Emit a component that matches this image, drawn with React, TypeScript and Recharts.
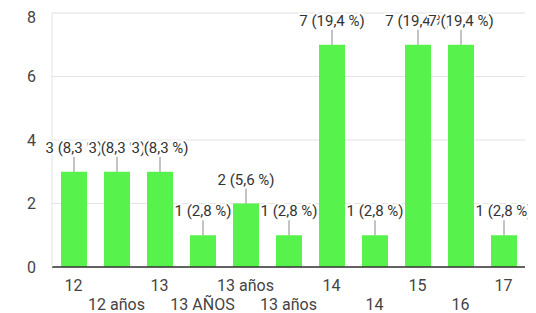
import { BarChart, Bar, XAxis, YAxis, CartesianGrid, LabelList } from "recharts"

const categories = ["12", "12 años", "13", "13 AÑOS", "13 años", "13 años ", "14", "14 ", "15", "16", "17"]
const counts = [3, 3, 3, 1, 2, 1, 7, 1, 7, 7, 1]
const yTicks = [0, 2, 4, 6, 8]
const minorTicks = [1, 3, 5, 7]

const total = counts.reduce((a, b) => a + b, 0)
const data = categories.map((c, i) => ({ cat: c, value: counts[i] }))
const pct = (v: number) => ((v / total) * 100).toFixed(1).replace(".", ",")

const FONT = "Roboto, 'Noto Sans', sans-serif"

const XTick = (props: any) => {
  const { x, y, payload, index } = props
  const dy = index % 2 === 0 ? 16 : 35
  return (
    <text x={x} y={y + dy} textAnchor="middle" fontSize={16} fill="#444" fontFamily={FONT}>
      {String(payload.value).trim()}
    </text>
  )
}

const BarLabel = (props: any) => {
  const { x, y, width, value } = props
  const cx = x + width / 2
  return (
    <g>
      <line x1={cx} y1={y} x2={cx} y2={y - 15} stroke="#888" strokeWidth={1} />
      <text x={cx} y={y - 19} textAnchor="middle" fontSize={15} fill="#333" fontFamily={FONT}
        stroke="#fff" strokeWidth={4} paintOrder="stroke">
        {`${value} (${pct(value)} %)`}
      </text>
    </g>
  )
}

export default function App() {
  return (
    <BarChart width={528} height={305} data={data} margin={{ top: 5, right: 11, left: 0, bottom: 0 }} barCategoryGap={0}>
      <CartesianGrid yAxisId="minor" vertical={false} stroke="#f3f3f3" />
      <CartesianGrid vertical={false} stroke="#e4e4e4" />
      <XAxis dataKey="cat" interval={0} tick={<XTick />} tickLine={false} axisLine={{ stroke: "#333", strokeWidth: 1.5 }} height={46} />
      <YAxis domain={[0, 8]} ticks={yTicks} width={44} tickLine={false} axisLine={{ stroke: "#e4e4e4" }}
        tickMargin={10} tick={{ fontSize: 16, fill: "#444", fontFamily: FONT }} />
      <YAxis yAxisId="minor" domain={[0, 8]} ticks={minorTicks} width={0} tick={false} tickLine={false} axisLine={false} />
      <YAxis yAxisId="r" orientation="right" width={0} tick={false} tickLine={false} axisLine={{ stroke: "#e4e4e4" }} />
      <Bar dataKey="value" fill="#58f24c" barSize={26} isAnimationActive={false}>
        <LabelList dataKey="value" content={<BarLabel />} />
      </Bar>
    </BarChart>
  )
}
